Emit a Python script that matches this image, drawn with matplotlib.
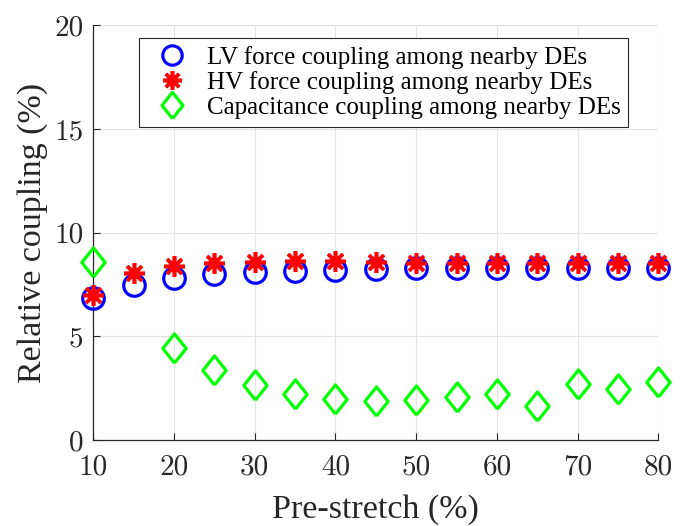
import numpy as np
import matplotlib
matplotlib.use("Agg")
import matplotlib.pyplot as plt

prestretch = [10, 15, 20, 25, 30, 35, 40, 45, 50, 55, 60, 65, 70, 75, 80]
lv_force = [6.83, 7.47, 7.80, 7.99, 8.08, 8.16, 8.22, 8.25, 8.30, 8.30, 8.30, 8.30, 8.30, 8.30, 8.30]
hv_force = [7.00, 8.04, 8.39, 8.52, 8.60, 8.63, 8.65, 8.58, 8.55, 8.55, 8.55, 8.52, 8.52, 8.52, 8.52]
capacitance = [8.60, np.nan, 4.45, 3.37, 2.65, 2.22, 1.98, 1.90, 1.93, 2.09, 2.22, 1.64, 2.68, 2.44, 2.81]
labels = ["LV force coupling among nearby DEs",
          "HV force coupling among nearby DEs",
          "Capacitance coupling among nearby DEs"]
xticks = [10, 20, 30, 40, 50, 60, 70, 80]
yticks = [0, 5, 10, 15, 20]

fig = plt.figure(figsize=(6.87, 5.26), dpi=100)
ax = fig.add_axes([0.1358, 0.1635, 0.8225, 0.7885])

diamond = [(0, -1), (0.8, 0), (0, 1), (-0.8, 0), (0, -1)]
star = (8, 2, 0)

ax.plot(prestretch, lv_force, linestyle='none', marker='o', ms=15.5, mew=2.3,
        mfc='none', mec=(0, 0, 1), label=labels[0], zorder=3, clip_on=False)
ax.plot(prestretch, hv_force, linestyle='none', marker=star, ms=15, mew=2.6,
        mfc='none', mec=(1, 0, 0), color=(1, 0, 0), label=labels[1], zorder=4, clip_on=False)
ax.plot(prestretch, capacitance, linestyle='none', marker=diamond, ms=21, mew=2.3,
        mfc='none', mec=(0, 1, 0), label=labels[2], zorder=3, clip_on=False)

ax.set_xlim(10, 80)
ax.set_ylim(0, 20)
ax.set_xticks(xticks)
ax.set_yticks(yticks)
ax.set_xticklabels([str(v) for v in xticks], fontfamily='cmr10', fontsize=21, color='#262626')
ax.set_yticklabels([str(v) for v in yticks], fontfamily='cmr10', fontsize=21, color='#262626')
ax.tick_params(direction='in', length=5, width=0.8, color='#262626')
ax.tick_params(axis='x', pad=10)
ax.tick_params(axis='y', pad=7)

ax.grid(True, color='#e3e3e3', linewidth=0.8)
ax.set_axisbelow(True)
for s in ['top', 'right']:
    ax.spines[s].set_visible(False)
for s in ['left', 'bottom']:
    ax.spines[s].set_color('#262626')
    ax.spines[s].set_linewidth(0.9)

ax.set_xlabel("Pre-stretch (%)", fontfamily='Liberation Serif', fontsize=24.5, color='#262626', labelpad=10)
ax.set_ylabel("Relative coupling (%)", fontfamily='Liberation Serif', fontsize=24.5, color='#262626', labelpad=4.5)

leg = ax.legend(loc='upper right', bbox_to_anchor=(0.946, 0.969), borderaxespad=0,
                prop={'family': 'Liberation Serif', 'size': 18}, fancybox=False,
                framealpha=1, edgecolor='#262626', handletextpad=0.4, labelspacing=0.1,
                borderpad=0.3, handlelength=2.0, markerscale=0.9)
leg.get_frame().set_linewidth(0.8)

fig.savefig("out.png", dpi=100)
